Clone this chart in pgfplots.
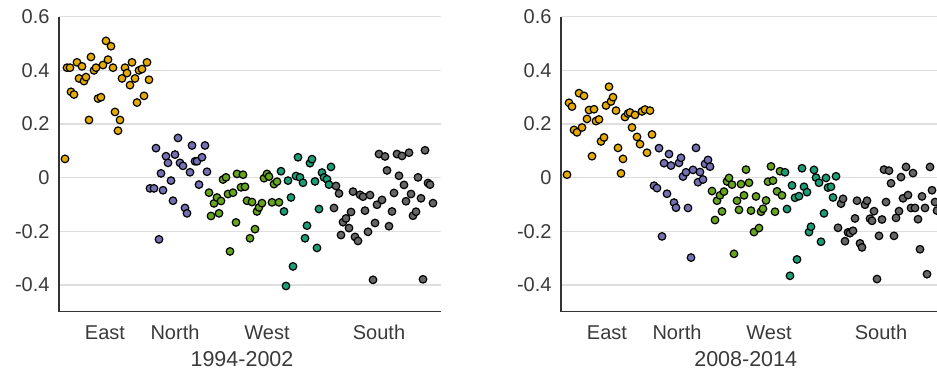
\documentclass[border=0pt]{standalone}
\usepackage{pgfplots}
\pgfplotsset{compat=1.18}
\usepackage{fontspec}
\setmainfont{Liberation Sans}
\definecolor{cE}{HTML}{E6AB02}
\definecolor{cN}{HTML}{7570B3}
\definecolor{cW}{HTML}{66A61E}
\definecolor{cT}{HTML}{1B9E77}
\definecolor{cS}{HTML}{666666}
\definecolor{txt}{HTML}{3A3A3A}
\definecolor{gridc}{HTML}{DEDEDE}
\pgfplotsset{
  panel/.style={
    anchor=south west, scale only axis, width=382pt, height=295pt,
    xmin=59, xmax=441, ymin=-0.5, ymax=0.6,
    axis x line*=bottom, axis y line*=left,
    axis line style={-, line width=1.3pt, color=black!80},
    xtick={105,175,267,379}, xticklabels={East,North,West,South},
    ytick={-0.4,-0.2,0,0.2,0.4,0.6}, yticklabels={-0.4,-0.2,0,0.2,0.4,0.6},
    major tick length=0pt,
    ymajorgrids, grid style={gridc, line width=1.2pt},
    tick label style={font=\fontsize{20}{24}\selectfont, text=txt},
    xticklabel style={yshift=-10pt},
    yticklabel style={xshift=-6pt},
  },
  pt/.style={only marks, mark=*, mark size=3.8pt, draw=black, fill=#1, line width=1.2pt},
}
\begin{document}
\begin{tikzpicture}[x=1pt,y=1pt]
\begin{axis}[panel, at={(59pt,60.25pt)},
  xlabel={1994-2002},
  xlabel style={font=\fontsize{21.5}{25}\selectfont, text=txt, inner sep=0pt, at={(axis description cs:0.479,0)}, anchor=north, yshift=-40pt}]
\addplot[pt=cE] coordinates {(65,0.07)(67,0.41)(70,0.41)(71,0.32)(74,0.31)(77,0.43)(79,0.37)(82,0.415)(84,0.36)(86,0.375)(89,0.215)(91,0.45)(94,0.40)(96,0.41)(98,0.295)(101,0.30)(103,0.42)(106,0.51)(108,0.44)(111,0.49)(113,0.41)(115,0.245)(118,0.175)(120,0.215)(122,0.37)(125,0.41)(127,0.39)(130,0.345)(132,0.43)(135,0.37)(137,0.28)(139,0.40)(142,0.405)(144,0.305)(147,0.43)(149,0.365)};
\addplot[pt=cN] coordinates {(150,-0.04)(154,-0.04)(156,0.11)(159,-0.23)(161,0.016)(163,-0.047)(166,0.08)(168,0.055)(171,-0.011)(173,-0.086)(175,0.086)(178,0.148)(180,0.055)(183,0.044)(185,-0.113)(187,-0.133)(190,0.02)(192,0.12)(195,0.061)(197,0.061)(199,-0.026)(202,0.076)(205,0.12)(207,0.022)};
\addplot[pt=cW] coordinates {(209,-0.056)(211,-0.143)(214,-0.096)(217,-0.074)(219,-0.133)(221,-0.087)(223,-0.007)(226,0.001)(228,-0.061)(230,-0.275)(233,-0.056)(236,-0.167)(237,0.014)(241,-0.036)(243,0.011)(245,-0.034)(247,-0.086)(250,-0.226)(252,-0.091)(255,-0.192)(257,-0.126)(259,-0.111)(262,-0.095)(264,-0.002)(267,0.014)(269,0.004)(272,-0.092)(274,-0.024)(277,-0.015)(279,-0.092)};
\addplot[pt=cT] coordinates {(281,0.024)(284,-0.126)(286,-0.404)(288,-0.011)(291,-0.074)(293,-0.331)(296,0.006)(298,0.076)(300,0.001)(303,-0.019)(305,-0.226)(307,-0.179)(310,0.054)(312,0.069)(315,-0.014)(317,-0.262)(319,-0.117)(322,0.019)(324,0.001)(327,-0.006)(329,-0.026)(331,0.04)};
\addplot[pt=cS] coordinates {(334,-0.113)(336,-0.031)(339,-0.059)(341,-0.214)(343,-0.166)(346,-0.152)(349,-0.188)(351,-0.128)(353,-0.052)(355,-0.221)(358,-0.236)(360,-0.064)(363,-0.071)(365,-0.123)(368,-0.202)(370,-0.065)(373,-0.381)(375,-0.169)(377,-0.101)(379,0.088)(382,-0.083)(385,0.079)(387,0.027)(389,-0.181)(392,-0.126)(394,-0.057)(397,0.088)(399,0.007)(402,0.081)(404,-0.027)(406,-0.088)(409,0.093)(411,-0.061)(413,-0.142)(416,-0.127)(418,0.001)(421,-0.077)(423,-0.379)(425,0.102)(428,-0.02)(430,-0.026)(433,-0.095)};
\end{axis}
\begin{axis}[panel, at={(561pt,60.25pt)},
  xlabel={2008-2014},
  xlabel style={font=\fontsize{21.5}{25}\selectfont, text=txt, inner sep=0pt, at={(axis description cs:0.4835,0)}, anchor=north, yshift=-40pt}]
\addplot[pt=cE] coordinates {(65,0.011)(67,0.279)(70,0.265)(72,0.178)(75,0.169)(77,0.315)(80,0.187)(82,0.305)(85,0.219)(87,0.252)(90,0.080)(92,0.255)(94,0.211)(97,0.217)(99,0.135)(102,0.150)(104,0.269)(107,0.339)(109,0.284)(111,0.300)(114,0.250)(116,0.111)(119,0.016)(121,0.070)(123,0.226)(126,0.239)(128,0.243)(130,0.187)(133,0.234)(135,0.152)(138,0.125)(140,0.247)(143,0.254)(145,0.093)(148,0.250)(150,0.161)};
\addplot[pt=cN] coordinates {(152,-0.030)(155,-0.039)(157,0.110)(160,-0.219)(162,0.054)(165,-0.060)(167,0.088)(169,0.045)(172,-0.093)(174,-0.112)(177,0.055)(179,0.074)(181,0.004)(184,0.020)(186,-0.113)(189,-0.298)(191,0.029)(194,0.111)(196,-0.017)(198,0.021)(201,-0.007)(203,0.051)(206,0.066)(208,0.041)};
\addplot[pt=cW] coordinates {(210,-0.050)(213,-0.158)(215,-0.086)(218,-0.066)(220,-0.126)(222,-0.052)(225,-0.014)(227,-0.001)(230,-0.026)(232,-0.284)(235,-0.086)(237,-0.120)(239,-0.024)(242,-0.066)(244,0.030)(247,-0.019)(249,-0.123)(252,-0.203)(254,-0.070)(257,-0.188)(259,-0.127)(261,-0.116)(264,-0.085)(266,-0.015)(269,0.042)(271,-0.011)(273,-0.127)(275,-0.051)(278,0.024)(280,-0.066)};
\addplot[pt=cT] coordinates {(283,0.020)(285,-0.117)(288,-0.366)(290,-0.029)(293,-0.075)(295,-0.305)(297,-0.069)(300,0.035)(302,-0.034)(305,-0.054)(307,-0.203)(309,-0.183)(312,0.029)(314,0.000)(317,-0.019)(319,-0.239)(322,-0.133)(324,-0.001)(326,-0.037)(329,-0.034)(331,-0.074)(334,0.005)};
\addplot[pt=cS] coordinates {(336,-0.187)(339,-0.097)(341,-0.079)(343,-0.237)(346,-0.204)(348,-0.207)(351,-0.198)(353,-0.152)(355,-0.086)(358,-0.245)(360,-0.260)(363,-0.101)(365,-0.086)(368,-0.153)(370,-0.161)(372,-0.125)(375,-0.378)(377,-0.217)(380,-0.156)(382,0.030)(384,-0.091)(387,0.026)(389,-0.021)(392,-0.217)(394,-0.150)(397,-0.125)(399,0.002)(401,-0.077)(404,0.040)(406,-0.065)(409,-0.113)(411,0.017)(413,-0.113)(416,-0.155)(418,-0.267)(420,-0.070)(423,-0.113)(425,-0.360)(428,0.040)(430,-0.047)(433,-0.091)(435,-0.123)};
\end{axis}
\pgfresetboundingbox
\useasboundingbox (0,0) rectangle (937,372);
\end{tikzpicture}
\end{document}
